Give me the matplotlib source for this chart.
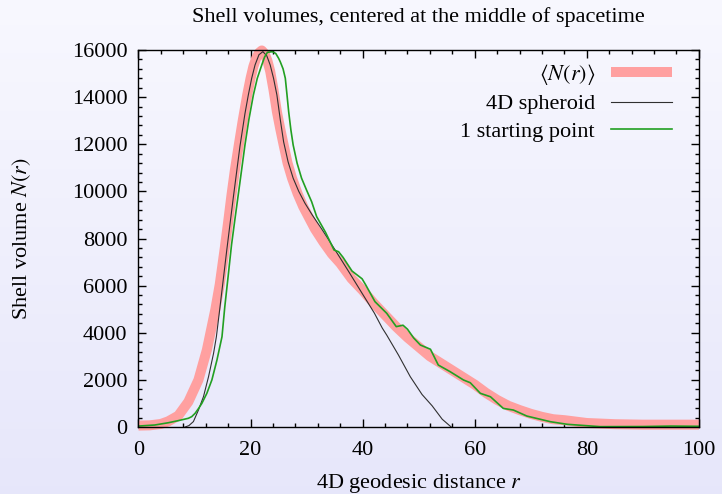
import numpy as np
import matplotlib
matplotlib.use("Agg")
import matplotlib.pyplot as plt
from matplotlib.ticker import MultipleLocator

plt.rcParams["font.family"] = ["Liberation Serif", "DejaVu Serif"]
plt.rcParams["mathtext.fontset"] = "stix"

# averaged shell volume <N(r)>
r_mean = [0, 2, 4, 5.3, 7.1, 8.9, 10.7, 12.2, 13.7, 14.5, 15.4, 16.0, 16.6, 17.2,
          17.9, 18.6, 19.4, 20.0, 20.5, 21.0, 21.5, 22.0, 22.5, 23.0, 23.5, 24.1,
          24.7, 25.3, 25.9, 26.6, 27.4, 28.4, 29.4, 30.5, 31.5, 33.0, 34.5, 36.0,
          38.0, 40.0, 42.0, 44.0, 46.0, 48.0, 50.0, 52.0, 54.0, 56.0, 58.0, 60.0,
          62.0, 64.0, 66.0, 68.0, 70.0, 72.0, 74.0, 76.0, 80.0, 85.0, 90.0, 100.0]
n_mean = [60, 70, 130, 240, 480, 1070, 2000, 3270, 4970, 6050, 7600, 8700, 9850, 10900,
          11970, 13000, 14090, 14800, 15300, 15650, 15880, 15980, 15850, 15550, 15100, 14300,
          13380, 12650, 11970, 11200, 10560, 9900, 9350, 8850, 8400, 7850, 7350, 6950,
          6300, 5800, 5250, 4750, 4250, 3800, 3400, 3000, 2700, 2400, 2100, 1800,
          1450, 1150, 900, 720, 560, 430, 330, 290, 170, 120, 100, 100]

# fitted 4D spheroid
r_sph = [8.3, 9.0, 9.8, 10.7, 11.6, 12.5, 13.4, 13.9, 14.6, 15.2, 15.75, 16.9, 18.1,
         19.0, 19.6, 20.2, 20.8, 21.5, 22.2, 22.9, 23.5, 24.1, 24.7, 25.3, 25.9,
         26.7, 27.6, 28.6, 29.7, 31.0, 32.7, 35.1, 37.5, 39.9, 42.1, 43.5, 44.3,
         46.4, 48.5, 50.6, 52.4, 54.2, 55.8]
n_sph = [0, 60, 230, 720, 1290, 2135, 3130, 3830, 5200, 6400, 7500, 9700, 11900,
         13300, 14090, 14800, 15365, 15800, 15930, 15750, 15365, 14800, 14090, 13050, 12100,
         11250, 10560, 10000, 9500, 9000, 8400, 7510, 6600, 5675, 4830, 4200, 3900,
         3050, 2135, 1380, 900, 330, 0]

# single starting point
r_one = [0, 2.9, 5.3, 7.1, 8.9, 9.5, 10.1, 10.7, 11.3, 12.2, 13.1, 14.0, 14.9, 15.4,
         16.0, 16.6, 17.2, 17.8, 19.0, 19.7, 20.5, 21.2, 22.0, 22.5, 23.0, 23.9,
         24.5, 25.0, 25.3, 25.8, 26.2, 26.5, 26.8, 27.2, 27.6, 28.3, 29.1, 30.0,
         30.9, 31.8, 33.4, 34.9, 35.7, 36.5, 38.1, 39.9, 40.5, 42.2, 44.3, 46.0,
         47.2, 48.0, 49.1, 50.3, 52.1, 53.5, 55.6, 58.0, 59.2, 61.0, 62.8, 65.1,
         66.9, 69.3, 73.5, 76.5, 82.4, 90.0, 95.0, 100.0]
n_one = [40, 85, 180, 270, 370, 440, 580, 780, 1000, 1430, 2000, 2840, 3830, 5100,
         6400, 7725, 8800, 9850, 11970, 13050, 14090, 14800, 15365, 15700, 15900, 15930,
         15850, 15650, 15500, 15200, 14800, 14100, 13380, 12600, 11970, 11200, 10560, 10050,
         9560, 8925, 8250, 7510, 7440, 7200, 6620, 6290, 6050, 5320, 4825, 4260,
         4320, 4150, 3780, 3480, 3300, 2630, 2350, 1995, 1880, 1430, 1285, 790,
         720, 465, 225, 115, 15, 20, 40, 30]

fig = plt.figure(figsize=(7.22, 4.94), dpi=100)

# soft vertical background gradient
bg = fig.add_axes([0, 0, 1, 1], zorder=-10)
grad = np.linspace(0, 1, 256).reshape(-1, 1)
top = np.array([0.972, 0.972, 0.998])
bot = np.array([0.905, 0.905, 0.982])
img = top + (bot - top) * grad[:, :, None]
bg.imshow(img, aspect="auto", extent=[0, 1, 0, 1])
bg.axis("off")

ax = fig.add_axes([0.1918, 0.1356, 0.7762, 0.7632])
ax.set_facecolor("none")

ax.plot(r_mean, n_mean, color="#ffa0a0", lw=7.2, solid_capstyle="butt",
        solid_joinstyle="round", clip_on=False, label=r"$\langle N(r)\rangle$")
ax.plot(r_sph, n_sph, color="#303030", lw=0.8, label="4D spheroid")
ax.plot(r_one, n_one, color="#22a022", lw=1.2, label="1 starting point")

ax.set_xlim(0, 100)
ax.set_ylim(0, 16000)
ax.xaxis.set_major_locator(MultipleLocator(20))
ax.xaxis.set_minor_locator(MultipleLocator(4))
ax.yaxis.set_major_locator(MultipleLocator(2000))
ax.yaxis.set_minor_locator(MultipleLocator(400))
ax.tick_params(which="both", direction="in", top=True, right=True,
               labelsize=16, width=1.0)
ax.tick_params(axis="x", which="both", pad=10)
ax.tick_params(axis="y", which="both", pad=8)
ax.tick_params(which="major", length=6)
ax.tick_params(which="minor", length=3)
for sp in ax.spines.values():
    sp.set_linewidth(1.0)

ax.set_title("Shell volumes, centered at the middle of spacetime",
             fontsize=16, pad=20)
ax.set_xlabel(r"4D geodesic distance $r$", fontsize=16, labelpad=9)
ax.set_ylabel(r"Shell volume $N(r)$", fontsize=16, labelpad=28)

ax.legend(loc="upper right", bbox_to_anchor=(0.991, 1.0265), frameon=False,
          markerfirst=False, fontsize=16, handlelength=2.75, handletextpad=0.7,
          labelspacing=0.3, borderaxespad=0.6)

fig.savefig("out.png", dpi=100)
